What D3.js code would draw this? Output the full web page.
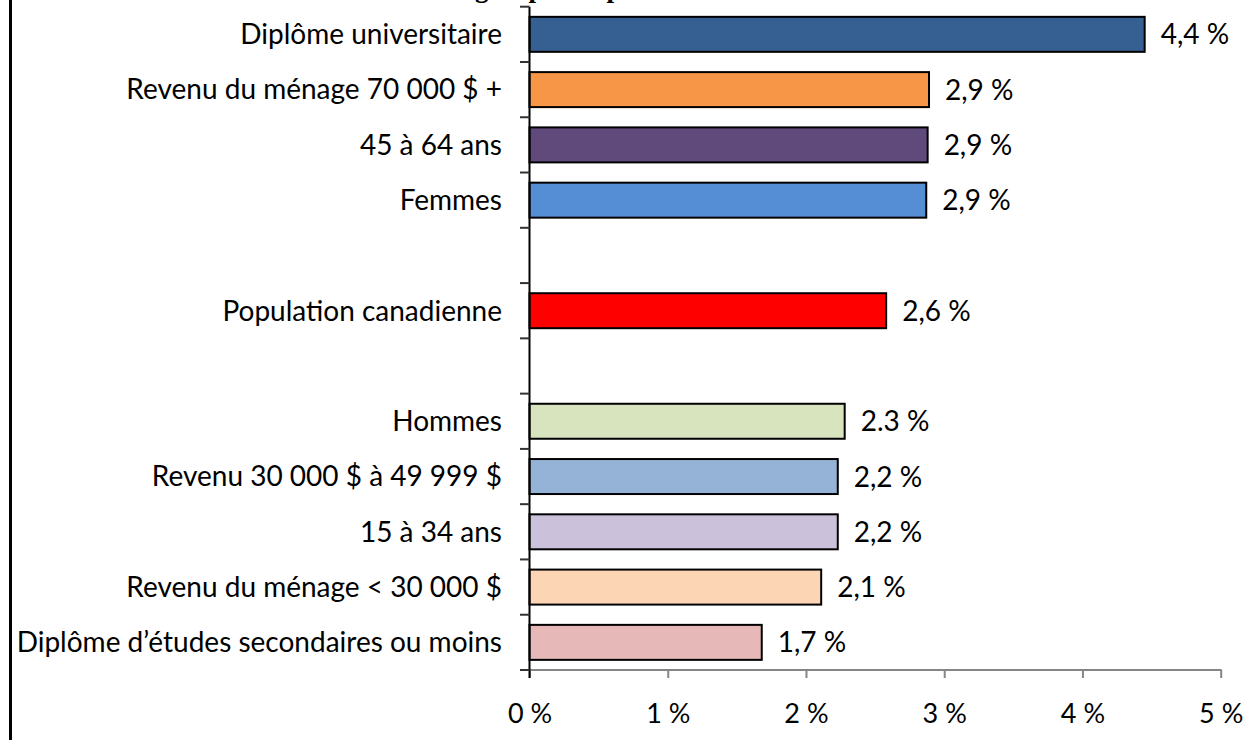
<!DOCTYPE html>
<html><head><meta charset="utf-8">
<script src="https://cdn.jsdelivr.net/npm/d3@7"></script>
<style>html,body{margin:0;padding:0;background:#fff;overflow:hidden}</style>
</head><body>
<svg id="c" width="1249" height="740"></svg>
<script>
const categories = ["Diplôme universitaire","Revenu du ménage 70 000 $ +","45 à 64 ans","Femmes","","Population canadienne","","Hommes","Revenu 30 000 $ à 49 999 $","15 à 34 ans","Revenu du ménage < 30 000 $","Diplôme d’études secondaires ou moins"];
const values = [4.45, 2.89, 2.88, 2.87, null, 2.58, null, 2.28, 2.23, 2.23, 2.11, 1.68];
const valueLabels = ["4,4 %","2,9 %","2,9 %","2,9 %","","2,6 %","","2.3 %","2,2 %","2,2 %","2,1 %","1,7 %"];
const colors = ["#366092","#F79646","#604A7B","#558ED5",null,"#FF0000",null,"#D7E4BD","#95B3D7","#CCC1DA","#FCD5B5","#E6B9B8"];
const xTicks = [0,1,2,3,4,5];
const titleText = "selon les groupes de personnes";

const svg = d3.select("#c");
const font = "Lato, 'Open Sans', sans-serif";

// frame left edge
svg.append("line").attr("x1",10.5).attr("x2",10.5).attr("y1",0).attr("y2",740)
  .attr("stroke","#000").attr("stroke-width",3);

// title (mostly cut off at top, as in the reference)
const t = svg.append("text").text(titleText)
  .attr("font-family","'Liberation Serif', serif").attr("font-weight","bold")
  .attr("font-size",27).attr("y",-3).attr("fill","#000");
const pre = svg.append("text").text("selon les\u00a0").attr("font-family","'Liberation Serif', serif")
  .attr("font-weight","bold").attr("font-size",27);
const pw = pre.node().getComputedTextLength(); pre.remove();
t.attr("x", 475 - pw);

const x = d3.scaleLinear().domain([0,5]).range([529.5,1220.7]);
const y = d3.scaleBand().domain(d3.range(categories.length)).range([6.7,670])
  .paddingInner(0.367).paddingOuter(0.1835);
const step = y.step();

// x axis
const xa = svg.append("g").attr("transform","translate(0,670)")
  .call(d3.axisBottom(x).tickValues(xTicks).tickFormat(d=>d+" %").tickSize(8).tickSizeOuter(0).tickPadding(26));
xa.select(".domain").remove();
xa.selectAll(".tick line").attr("stroke","#868686").attr("stroke-width",2);
xa.selectAll(".tick text").attr("font-family",font).attr("font-size",27).attr("fill","#000");
svg.append("line").attr("x1",520).attr("x2",x(5)+1).attr("y1",670).attr("y2",670)
  .attr("stroke","#868686").attr("stroke-width",2);

// bars
const idx = d3.range(categories.length).filter(i=>values[i]!=null);
svg.append("g").selectAll("rect").data(idx).join("rect")
  .attr("x",x(0)).attr("y",i=>y(i)).attr("width",i=>x(values[i])-x(0)).attr("height",y.bandwidth())
  .attr("fill",i=>colors[i]).attr("stroke","#000").attr("stroke-width",2);

// y axis
svg.append("line").attr("x1",x(0)).attr("x2",x(0)).attr("y1",6.7).attr("y2",678)
  .attr("stroke","#000").attr("stroke-width",2);
const bounds = d3.range(categories.length).map(i=>y(i)-step*0.367/2).concat([670]);
svg.append("g").selectAll("line").data(bounds).join("line")
  .attr("x1",520).attr("x2",x(0)).attr("y1",d=>d).attr("y2",d=>d)
  .attr("stroke","#333").attr("stroke-width",2);

// category labels
svg.append("g").selectAll("text").data(d3.range(categories.length)).join("text")
  .attr("x",502).attr("y",i=>y(i)+y.bandwidth()/2).attr("dy","0.35em")
  .attr("text-anchor","end").attr("font-family",font).attr("font-size",28).attr("fill","#000")
  .text(i=>categories[i]);

// value labels
svg.append("g").selectAll("text").data(idx).join("text")
  .attr("x",i=>x(values[i])+16).attr("y",i=>y(i)+y.bandwidth()/2).attr("dy","0.36em")
  .attr("font-family",font).attr("font-size",28).attr("fill","#000")
  .text(i=>valueLabels[i]);
</script>
</body></html>
